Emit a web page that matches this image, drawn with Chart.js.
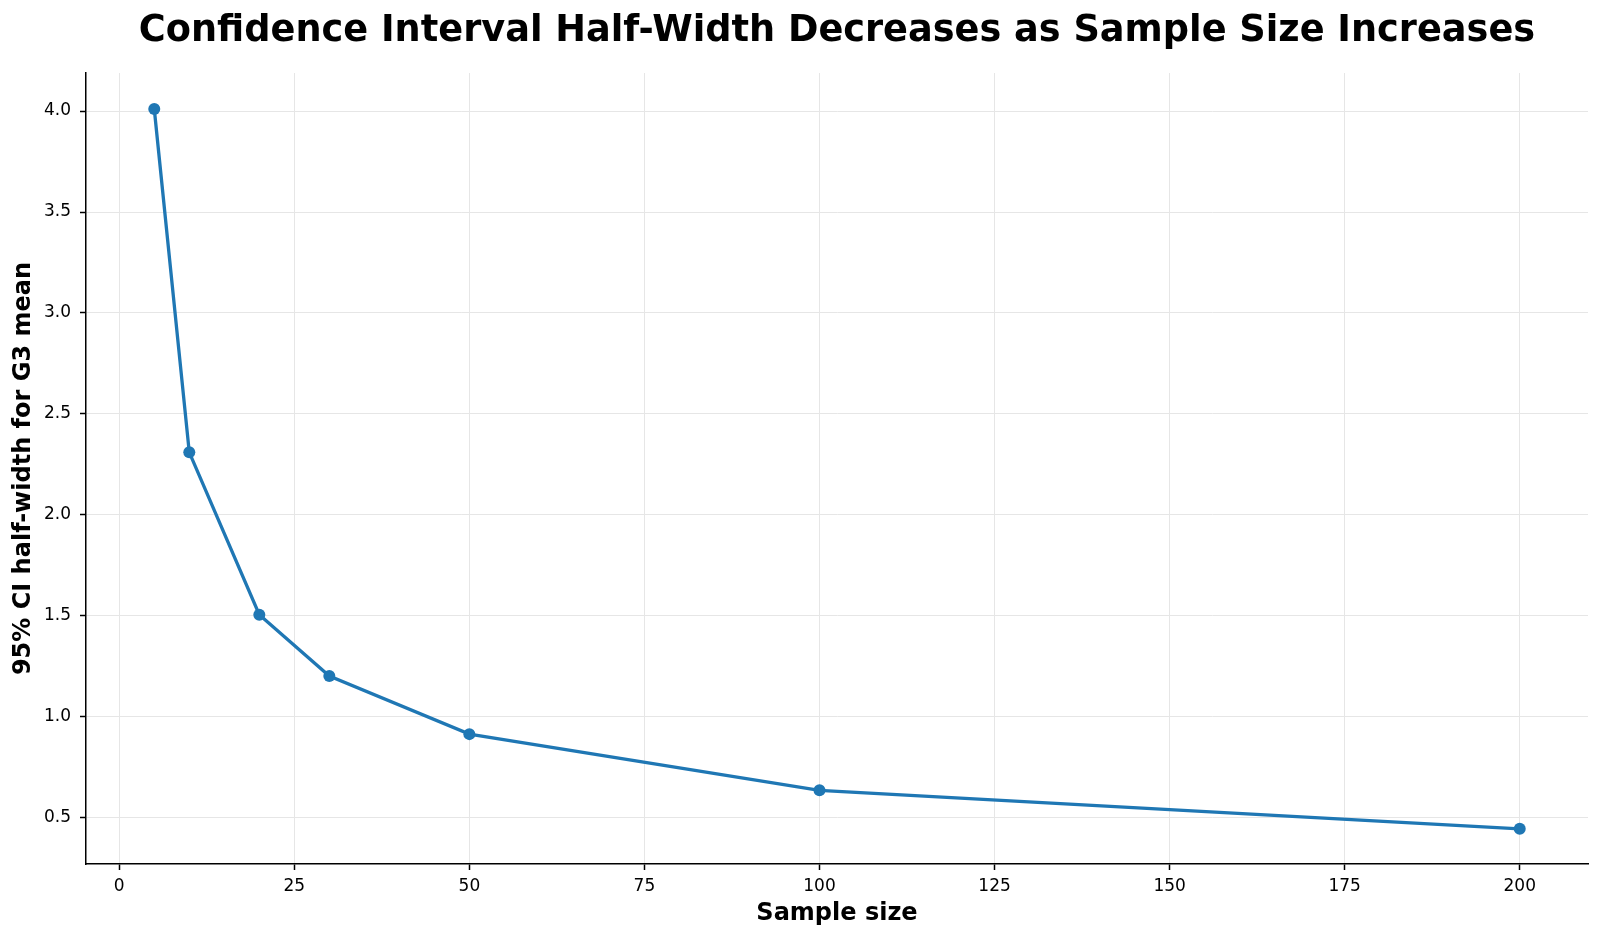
<!DOCTYPE html>
<html>
<head>
<meta charset="utf-8">
<script src="https://cdn.jsdelivr.net/npm/chart.js@4.4.1/dist/chart.umd.min.js"></script>
<style>
  html, body { margin: 0; padding: 0; background: #fff; }
  #chart { display: block; }
</style>
</head>
<body>
<canvas id="chart" width="1600" height="939"></canvas>
<script>
// 표본 크기별 95% 신뢰구간 반폭
var sampleSizes = [5, 10, 20, 30, 50, 100, 200];
var halfWidths = [4.01, 2.31, 1.506, 1.203, 0.915, 0.637, 0.446];

var titleText = 'Confidence Interval Half-Width Decreases as Sample Size Increases';
var xLabel = 'Sample size';
var yLabel = '95% CI half-width for G3 mean';

var points = [];
for (var i = 0; i < sampleSizes.length; i++) {
    points.push({x: sampleSizes[i], y: halfWidths[i]});
}

var font = 'DejaVu Sans';
var blue = '#1f77b4';

var ctx = document.getElementById('chart').getContext('2d');
window.myChart = new Chart(ctx, {
    type: 'scatter',
    data: {
        datasets: [{
            data: points,
            showLine: true,
            borderColor: blue,
            backgroundColor: blue,
            borderWidth: 3.3,
            pointRadius: 6,
            pointBorderWidth: 0,
            pointBackgroundColor: blue,
            tension: 0
        }]
    },
    options: {
        responsive: false,
        animation: false,
        layout: { padding: { left: 0, right: 12, top: 0, bottom: 0 } },
        plugins: {
            legend: { display: false },
            tooltip: { enabled: false },
            title: {
                display: true,
                text: titleText,
                fullSize: false,
                color: '#000',
                font: { family: font, size: 36.7, weight: 'bold' },
                padding: { top: 9, bottom: 20 }
            }
        },
        scales: {
            x: {
                type: 'linear',
                min: -4.75,
                max: 209.75,
                afterFit: function (scale) { scale.height = 75; },
                border: { color: '#000', width: 1.5 },
                grid: {
                    color: '#e6e6e6',
                    lineWidth: 1,
                    tickColor: '#000',
                    tickLength: 6,
                    tickWidth: 1.5
                },
                ticks: {
                    stepSize: 25,
                    includeBounds: false,
                    maxRotation: 0,
                    color: '#000',
                    padding: 6,
                    font: { family: font, size: 17 }
                },
                title: {
                    display: true,
                    text: xLabel,
                    color: '#000',
                    font: { family: font, size: 24, weight: 'bold' },
                    padding: { top: 0, bottom: 11 }
                }
            },
            y: {
                type: 'linear',
                min: 0.272,
                max: 4.188,
                afterFit: function (scale) { scale.width = 86; },
                border: { color: '#000', width: 1.5 },
                grid: {
                    color: '#e6e6e6',
                    lineWidth: 1,
                    tickColor: '#000',
                    tickLength: 6,
                    tickWidth: 1.5
                },
                ticks: {
                    stepSize: 0.5,
                    includeBounds: false,
                    color: '#000',
                    padding: 9,
                    font: { family: font, size: 17 },
                    callback: function (v) { return v.toFixed(1); }
                },
                title: {
                    display: true,
                    text: yLabel,
                    color: '#000',
                    font: { family: font, size: 24, weight: 'bold' },
                    padding: { top: 9, bottom: 0 }
                }
            }
        }
    }
});
</script>
</body>
</html>
